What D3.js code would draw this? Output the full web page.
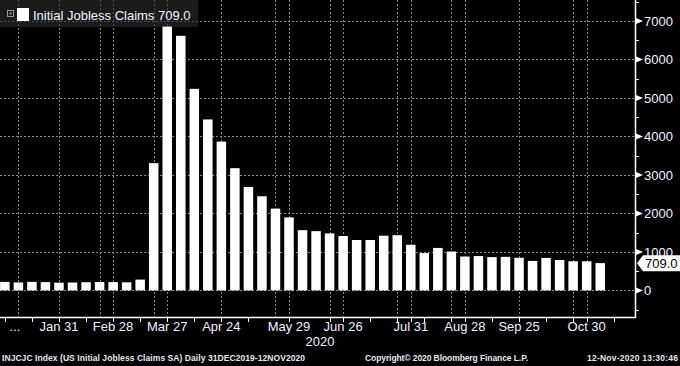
<!DOCTYPE html>
<html>
<head>
<meta charset="utf-8">
<script src="https://cdn.jsdelivr.net/npm/d3@7"></script>
<style>
  body { margin: 0; background: #000; }
  svg { display: block; font-family: "Liberation Sans", Arial, sans-serif; }
</style>
</head>
<body>
<div id="chart"></div>
<script>
// weekly initial claims (thousands), plotted on the Friday of each week
var weeks = ["2020-01-03","2020-01-10","2020-01-17","2020-01-24","2020-01-31","2020-02-07","2020-02-14",
  "2020-02-21","2020-02-28","2020-03-06","2020-03-13","2020-03-20","2020-03-27","2020-04-03","2020-04-10",
  "2020-04-17","2020-04-24","2020-05-01","2020-05-08","2020-05-15","2020-05-22","2020-05-29","2020-06-05",
  "2020-06-12","2020-06-19","2020-06-26","2020-07-03","2020-07-10","2020-07-17","2020-07-24","2020-07-31",
  "2020-08-07","2020-08-14","2020-08-21","2020-08-28","2020-09-04","2020-09-11","2020-09-18","2020-09-25",
  "2020-10-02","2020-10-09","2020-10-16","2020-10-23","2020-10-30","2020-11-06"];
var claims = [222, 207, 223, 216, 202, 205, 214, 219, 217, 211, 282, 3307, 6867, 6615, 5237,
  4442, 3867, 3176, 2687, 2446, 2126, 1897, 1566, 1540, 1482, 1413, 1310, 1310, 1422, 1435, 1186,
  971, 1104, 1011, 881, 893, 866, 873, 849, 767, 845, 791, 758, 757, 709];

var labelDates = ["2020-01-31","2020-02-28","2020-03-27","2020-04-24","2020-05-29","2020-06-26",
  "2020-07-31","2020-08-28","2020-09-25","2020-10-30"];
var labelText = ["Jan 31","Feb 28","Mar 27","Apr 24","May 29","Jun 26","Jul 31","Aug 28","Sep 25","Oct 30"];
var extraGrid = ["2020-01-10","2020-02-21","2020-03-20","2020-05-22","2020-06-19","2020-07-24",
  "2020-08-21","2020-10-23"];
var minorTicks = ["2020-01-03","2020-01-17","2020-02-14","2020-03-13","2020-04-10","2020-05-08",
  "2020-06-19","2020-07-10","2020-07-24","2020-08-07","2020-08-21","2020-09-11","2020-10-09",
  "2020-10-23","2020-11-13"];
var yTicks = [0, 1000, 2000, 3000, 4000, 5000, 6000, 7000];
var yMinor = [-500, 500, 1500, 2500, 3500, 4500, 5500, 6500, 7500];
var lastValue = "709.0";

var W = 680, H = 366;
var parse = d3.timeParse("%Y-%m-%d");

var svg = d3.select("#chart").append("svg")
    .attr("width", W).attr("height", H);

svg.append("rect").attr("width", W).attr("height", H).attr("fill", "#000");

var x = d3.scaleTime()
    .domain([parse("2020-01-01"), parse("2020-11-24")])
    .range([1, 635]);
var y = d3.scaleLinear()
    .domain([-690, 7545])
    .range([317, 0]);

// gridlines
var grid = svg.append("g").attr("stroke", "#8a8a8a").attr("stroke-dasharray", "2,2").attr("stroke-width", 1);
grid.selectAll(".hg").data(yTicks).enter().append("line")
    .attr("x1", 0).attr("x2", 635)
    .attr("y1", function(d) { return Math.round(y(d)) + 0.5; })
    .attr("y2", function(d) { return Math.round(y(d)) + 0.5; });
grid.selectAll(".vg").data(labelDates.concat(extraGrid)).enter().append("line")
    .attr("x1", function(d) { return Math.round(x(parse(d))) + 0.5; })
    .attr("x2", function(d) { return Math.round(x(parse(d))) + 0.5; })
    .attr("y1", 0).attr("y2", 317);

// bars
var bw = 9.5;
svg.append("g").selectAll("rect")
    .data(weeks.map(function(d, i) { return {date: parse(d), v: claims[i]}; }))
    .enter().append("rect")
      .attr("x", function(d) { return x(d.date) - bw / 2; })
      .attr("y", function(d) { return y(d.v); })
      .attr("width", bw)
      .attr("height", function(d) { return y(0) - y(d.v); })
      .attr("fill", "#fff");

// legend
svg.append("rect").attr("x", 0).attr("y", 0).attr("width", 198).attr("height", 27)
    .attr("fill", "#2c2c2c").attr("opacity", 0.62);
svg.append("rect").attr("x", 7.5).attr("y", 10.5).attr("width", 6).attr("height", 6)
    .attr("fill", "none").attr("stroke", "#999");
svg.append("rect").attr("x", 9.5).attr("y", 12.5).attr("width", 2).attr("height", 2).attr("fill", "#999");
svg.append("rect").attr("x", 17).attr("y", 8).attr("width", 12).attr("height", 13).attr("fill", "#fff");
svg.append("text").attr("x", 33).attr("y", 19.5)
    .attr("fill", "#f4f6ff").style("font-size", "13px")
    .text("Initial Jobless Claims " + lastValue);

// right axis
var ax = svg.append("g");
ax.append("line").attr("x1", 635.5).attr("x2", 635.5).attr("y1", 0).attr("y2", 318)
    .attr("stroke", "#fff").attr("stroke-width", 1.5);
ax.append("line").attr("x1", 0).attr("x2", 636).attr("y1", 317.5).attr("y2", 317.5)
    .attr("stroke", "#fff").attr("stroke-width", 1.5);
ax.selectAll(".tri").data(yTicks).enter().append("path")
    .attr("d", function(d) { var t = y(d); return "M636," + (t - 3) + "L643," + t + "L636," + (t + 3) + "Z"; })
    .attr("fill", "#fff");
ax.selectAll(".ym").data(yMinor).enter().append("line")
    .attr("x1", 636).attr("x2", 639)
    .attr("y1", function(d) { return Math.round(y(d)) + 0.5; })
    .attr("y2", function(d) { return Math.round(y(d)) + 0.5; })
    .attr("stroke", "#fff");
ax.selectAll(".yl").data(yTicks).enter().append("text")
    .attr("x", 644).attr("y", function(d) { return y(d) + 5; })
    .attr("fill", "#eef4ff").style("font-size", "13px")
    .text(function(d) { return d; });

// last value tag
var ly = y(709);
svg.append("path")
    .attr("d", "M637," + ly + "L643," + (ly - 8) + "L680," + (ly - 8) + "L680," + (ly + 8) + "L643," + (ly + 8) + "Z")
    .attr("fill", "#fff");
svg.append("text").attr("x", 645).attr("y", ly + 5)
    .attr("fill", "#000").style("font-size", "13px").text(lastValue);

// bottom axis ticks and labels
svg.append("g").selectAll("line").data(labelDates.concat(minorTicks)).enter().append("line")
    .attr("x1", function(d) { return Math.round(x(parse(d))) + 0.5; })
    .attr("x2", function(d) { return Math.round(x(parse(d))) + 0.5; })
    .attr("y1", 318).attr("y2", 322)
    .attr("stroke", "#fff");
svg.append("g").selectAll("text").data(labelDates).enter().append("text")
    .attr("x", function(d) { return x(parse(d)); })
    .attr("y", 331)
    .attr("text-anchor", "middle")
    .attr("fill", "#eef4ff").style("font-size", "13px")
    .text(function(d, i) { return labelText[i]; });
svg.append("text").attr("x", 15).attr("y", 331).attr("text-anchor", "middle")
    .attr("fill", "#eef4ff").style("font-size", "13px").text("...");
svg.append("text").attr("x", 320).attr("y", 346).attr("text-anchor", "middle")
    .attr("fill", "#eef4ff").style("font-size", "13px").text("2020");

// footer
var foot = svg.append("g").attr("fill", "#e8e8e8").style("font-size", "8.5px").style("font-weight", "bold");
foot.append("text").attr("x", 2).attr("y", 361).attr("textLength", 303)
    .text("INJCJC Index (US Initial Jobless Claims SA)  Daily 31DEC2019-12NOV2020");
foot.append("text").attr("x", 365).attr("y", 361).attr("textLength", 163)
    .text("Copyright\u00a9 2020 Bloomberg Finance L.P.");
foot.append("text").attr("x", 587).attr("y", 361).attr("textLength", 91)
    .text("12-Nov-2020 13:30:46");
</script>
</body>
</html>
